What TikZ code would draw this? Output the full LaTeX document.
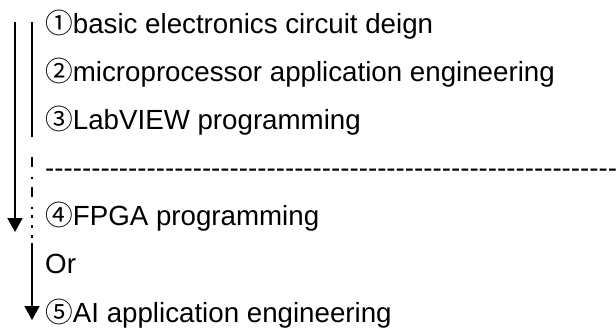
\documentclass[tikz,border=0pt]{standalone}
\usepackage{fontspec}
\setmainfont{Liberation Sans}
\newfontfamily\cjk{Noto Sans CJK JP}
\usetikzlibrary{arrows.meta}
\tikzset{
  item/.style={anchor=base west, inner sep=0pt, font=\fontsize{27.7pt}{30pt}\selectfont},
  vline/.style={line width=2pt},
  tipped/.style={vline, -{Triangle[width=15pt,length=14pt]}},
}
\newcommand{\cnum}[1]{{\cjk #1}}
\newcount\hycount
\newcommand{\hyphenrow}[1]{\hycount=0 \loop\ifnum\hycount<#1 \mbox{-}\advance\hycount by 1 \repeat}
\begin{document}
\begin{tikzpicture}[x=1pt,y=-1pt]
\useasboundingbox (0,0) rectangle (616,327);
% text lines
\node[item] (l1) at (45,33) {\cnum{①}basic electronics circuit deign};
\node[item] (l2) at (45,81.2) {\cnum{②}microprocessor application engineering};
\node[item] (l3) at (45,129.3) {\cnum{③}LabVIEW programming};
\node[item] (l4) at (45,177.5) {\hyphenrow{62}};
\node[item] (l5) at (45,225.7) {\cnum{④}FPGA programming};
\node[item] (l6) at (45,273.8) {Or};
\node[item] (l7) at (45,322) {\cnum{⑤}AI application engineering};
% left arrow
\coordinate (a0) at (15,22);
\coordinate (a1) at (15,232);
\draw[tipped] (a0) -- (a1);
% right line: solid, dash-dot, dotted, solid arrow
\coordinate (b0) at (32,22);
\coordinate (b1) at (32,137);
\coordinate (b2) at (32,157);
\coordinate (b3) at (32,211);
\coordinate (b4) at (32,215);
\coordinate (b5) at (32,239);
\coordinate (b6) at (32,243);
\coordinate (b7) at (32,320);
\draw[vline] (b0) -- (b1);
\draw[vline, dash pattern=on 10pt off 10pt on 2pt off 8pt] (b2) -- (b3);
\draw[vline, dash pattern=on 3pt off 7pt] (b4) -- (b5);
\draw[tipped] (b6) -- (b7);
\end{tikzpicture}
\end{document}
